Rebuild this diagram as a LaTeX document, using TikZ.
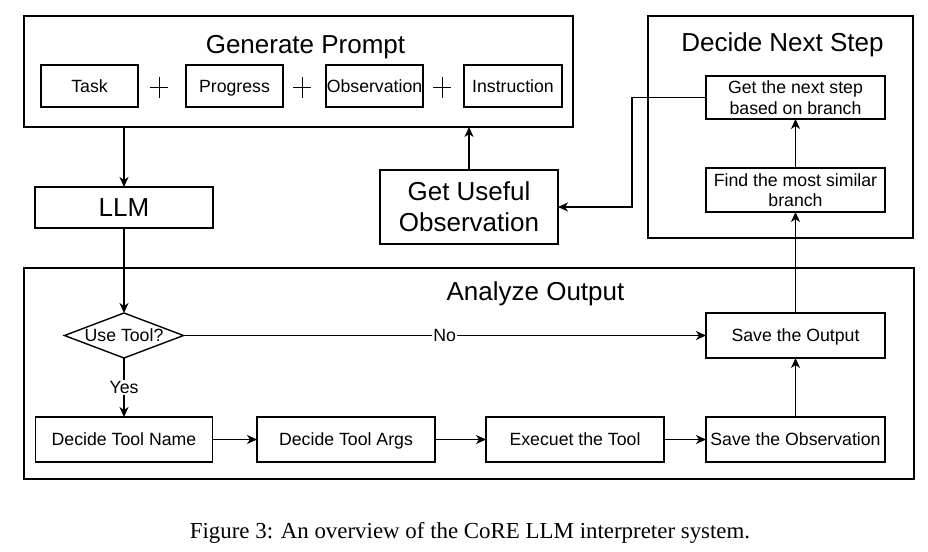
\documentclass[tikz,border=0pt]{standalone}
\usepackage{fontspec}
\setmainfont{Liberation Sans}
\newfontfamily\capfont{Liberation Serif}
\usetikzlibrary{shapes.geometric,arrows.meta}
\begin{document}
\begin{tikzpicture}[x=1pt,y=-1pt,
  box/.style={draw, line width=1.4pt, inner sep=0pt, outer sep=0pt, align=center, font=\fontsize{17.7}{20.5}\selectfont},
  single/.style={text height=12.7pt, text depth=0pt},
  bigsingle/.style={text height=18.6pt, text depth=0pt},
  bigbox/.style={box, font=\fontsize{26}{31}\selectfont},
  frame/.style={draw, line width=1.4pt, inner sep=0pt, outer sep=0pt},
  title/.style={anchor=base, inner sep=0pt, font=\fontsize{26}{31}\selectfont},
  arr/.style={line width=1.4pt, -{Stealth[length=10pt,width=9pt,inset=3pt]}},
  lbl/.style={fill=white, inner sep=1pt, font=\fontsize{17.7}{20}\selectfont},
  plusmark/.style={line width=0.8pt}]
\useasboundingbox (0,0) rectangle (928,551);

% Generate Prompt
\node[frame, minimum width=549pt, minimum height=111pt] (gp) at (298.5,71.5) {};
\node[title] (gpt) at (305.5,53) {Generate Prompt};
\node[box, single, minimum width=97pt, minimum height=42pt] (task) at (89.5,86) {Task};
\node[box, single, minimum width=97pt, minimum height=42pt] (prog) at (234.5,86) {Progress};
\node[box, single, minimum width=97pt, minimum height=42pt] (obs) at (374.5,86) {Observation};
\node[box, single, minimum width=98pt, minimum height=42pt] (inst) at (513,86) {Instruction};
\draw[plusmark] (159,76.5) -- (159,97.5) (150,87) -- (168,87);
\draw[plusmark] (302,76.5) -- (302,97.5) (293,87) -- (311,87);
\draw[plusmark] (442,76.5) -- (442,97.5) (433,87) -- (451,87);

% LLM and Get Useful Observation
\node[bigbox, bigsingle, minimum width=178pt, minimum height=41pt] (llm) at (124,207.5) {LLM};
\node[box, font=\fontsize{26}{31}\selectfont, minimum width=178pt, minimum height=74pt] (guo) at (469,207) {Get Useful\\Observation};

% Decide Next Step
\node[frame, minimum width=265pt, minimum height=222pt] (dns) at (780.5,127) {};
\node[title] (dnst) at (782.5,52) {Decide Next Step};
\node[box, minimum width=179pt, minimum height=43pt] (gns) at (795.5,97.5) {Get the next step\\based on branch};
\node[box, minimum width=179pt, minimum height=44pt] (fms) at (795.5,190) {Find the most similar\\branch};

% Analyze Output
\node[frame, minimum width=890pt, minimum height=211pt] (ao) at (469,373.5) {};
\node[title] (aot) at (535.5,300) {Analyze Output};
\node[draw, line width=1.4pt, diamond, aspect=2.64, inner sep=0pt, outer sep=0pt, minimum width=119pt, minimum height=45pt, font=\fontsize{17.7}{20}\selectfont] (dec) at (124,335.5) {Use Tool?};
\node[box, single, minimum width=179pt, minimum height=45pt] (sout) at (795.5,335.5) {Save the Output};
\node[box, single, minimum width=177pt, minimum height=45pt] (dtn) at (124,439.5) {Decide Tool Name};
\node[box, single, minimum width=178pt, minimum height=45pt] (dta) at (346,439.5) {Decide Tool Args};
\node[box, single, minimum width=178pt, minimum height=45pt] (ett) at (575,439.5) {Execuet the Tool};
\node[box, single, minimum width=179pt, minimum height=45pt] (sto) at (795.5,439.5) {Save the Observation};

% connectors
\coordinate (bend) at (632,97.5);
\draw[arr] (llm.north |- gp.south) -- (llm.north);
\draw[arr] (guo.north) -- (guo.north |- gp.south);
\draw[arr] (gns.west) -- (bend) |- (guo.east);
\draw[arr] (fms.north) -- (gns.south);
\draw[arr] (sout.north) -- (fms.south);
\draw[arr] (llm.south) -- (dec.north);
\draw[arr] (dec.east) -- node[lbl] (no) {No} (sout.west);
\draw[arr] (dec.south) -- node[lbl] (yes) {Yes} (dtn.north);
\draw[arr] (dtn.east) -- (dta.west);
\draw[arr] (dta.east) -- (ett.west);
\draw[arr] (ett.east) -- (sto.west);
\draw[arr] (sto.north) -- (sout.south);

% caption
\node[anchor=base, inner sep=0pt, font=\capfont\fontsize{22.9}{27}\selectfont] (cap) at (470,538) {Figure 3: An overview of the CoRE LLM interpreter system.};
\end{tikzpicture}
\end{document}
